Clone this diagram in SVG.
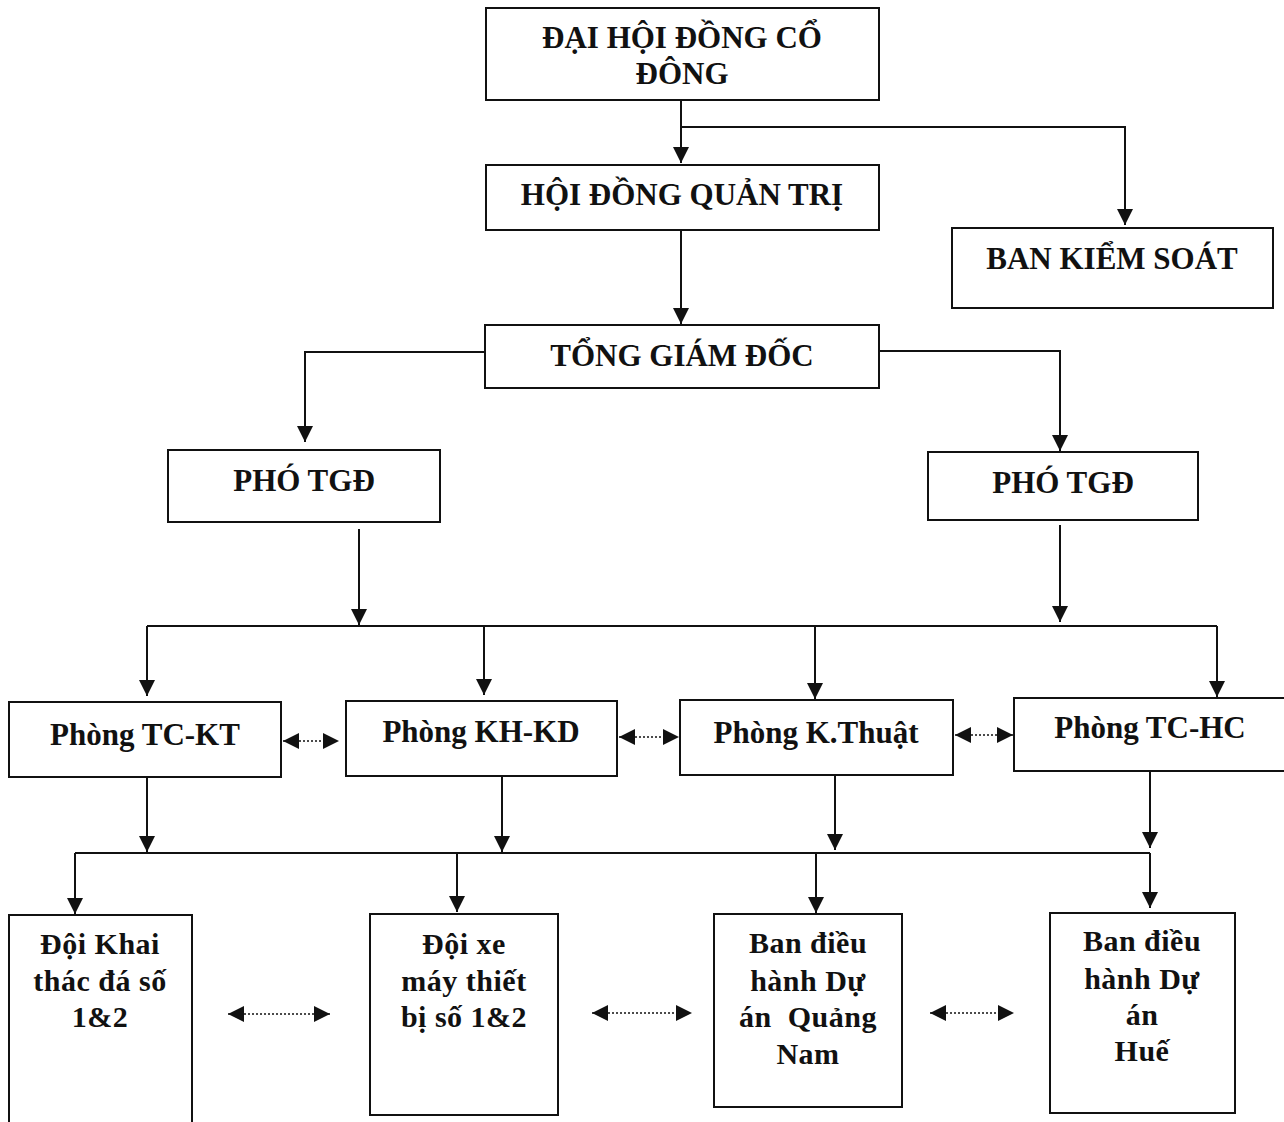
<svg xmlns="http://www.w3.org/2000/svg" width="1284" height="1122" viewBox="0 0 1284 1122">
<style>
.box{fill:#fff;stroke:#111;stroke-width:2}
.t{font-family:"Liberation Serif","DejaVu Serif",serif;font-weight:bold;font-size:31px;fill:#111;text-anchor:middle}
.b{font-size:30px;letter-spacing:0.5px}
.c{fill:none;stroke:#111;stroke-width:2}
.d{fill:none;stroke:#111;stroke-width:1.5;stroke-dasharray:2,2}
</style>
<defs>
<marker id="ah" viewBox="0 0 10 10" refX="10" refY="5" markerWidth="16" markerHeight="16" markerUnits="userSpaceOnUse" orient="auto">
<path d="M0,0 L10,5 L0,10 z" fill="#111"/>
</marker>
<marker id="as" viewBox="0 0 10 10" refX="0" refY="5" markerWidth="16" markerHeight="16" markerUnits="userSpaceOnUse" orient="auto">
<path d="M10,0 L0,5 L10,10 z" fill="#111"/>
</marker>
</defs>
<rect width="1284" height="1122" fill="#fff"/>
<g id="connectors">
<path class="c" d="M681,100 V163" marker-end="url(#ah)"/>
<path class="c" d="M681,127 H1125 V225" marker-end="url(#ah)"/>
<path class="c" d="M681,230 V324" marker-end="url(#ah)"/>
<path class="c" d="M485,352 H305 V442" marker-end="url(#ah)"/>
<path class="c" d="M879,351 H1060 V451" marker-end="url(#ah)"/>
<path class="c" d="M359,529 V625" marker-end="url(#ah)"/>
<path class="c" d="M1060,525 V622" marker-end="url(#ah)"/>
<path class="c" d="M147,626 H1217"/>
<path class="c" d="M147,626 V696" marker-end="url(#ah)"/>
<path class="c" d="M484,626 V695" marker-end="url(#ah)"/>
<path class="c" d="M815,626 V699" marker-end="url(#ah)"/>
<path class="c" d="M1217,626 V697" marker-end="url(#ah)"/>
<path class="c" d="M147,777 V852" marker-end="url(#ah)"/>
<path class="c" d="M502,776 V852" marker-end="url(#ah)"/>
<path class="c" d="M835,775 V850" marker-end="url(#ah)"/>
<path class="c" d="M1150,771 V848" marker-end="url(#ah)"/>
<path class="c" d="M75,853 H1150"/>
<path class="c" d="M75,853 V914" marker-end="url(#ah)"/>
<path class="c" d="M457,853 V912" marker-end="url(#ah)"/>
<path class="c" d="M816,853 V913" marker-end="url(#ah)"/>
<path class="c" d="M1150,853 V908" marker-end="url(#ah)"/>
<path class="d" d="M283,741 H339" marker-start="url(#as)" marker-end="url(#ah)"/>
<path class="d" d="M619,737 H679" marker-start="url(#as)" marker-end="url(#ah)"/>
<path class="d" d="M955,735 H1013" marker-start="url(#as)" marker-end="url(#ah)"/>
<path class="d" d="M228,1014 H330" marker-start="url(#as)" marker-end="url(#ah)"/>
<path class="d" d="M592,1013 H692" marker-start="url(#as)" marker-end="url(#ah)"/>
<path class="d" d="M930,1013 H1014" marker-start="url(#as)" marker-end="url(#ah)"/>
</g>
<g id="dhdcd"><rect class="box" x="486" y="8" width="393" height="92"/><text class="t" x="682" y="48">ĐẠI HỘI ĐỒNG CỔ</text><text class="t" x="682" y="84">ĐÔNG</text></g>
<g id="hdqt"><rect class="box" x="486" y="165" width="393" height="65"/><text class="t" x="682" y="205">HỘI ĐỒNG QUẢN TRỊ</text></g>
<g id="bks"><rect class="box" x="952" y="228" width="321" height="80"/><text class="t" x="1112" y="269">BAN KIỂM SOÁT</text></g>
<g id="tgd"><rect class="box" x="485" y="325" width="394" height="63"/><text class="t" x="682" y="366">TỔNG GIÁM ĐỐC</text></g>
<g id="ptgd1"><rect class="box" x="168" y="450" width="272" height="72"/><text class="t" x="304" y="491">PHÓ TGĐ</text></g>
<g id="ptgd2"><rect class="box" x="928" y="452" width="270" height="68"/><text class="t" x="1063" y="493">PHÓ TGĐ</text></g>
<g id="tckt"><rect class="box" x="9" y="702" width="272" height="75"/><text class="t" x="145" y="745">Phòng TC-KT</text></g>
<g id="khkd"><rect class="box" x="346" y="701" width="271" height="75"/><text class="t" x="481" y="742">Phòng KH-KD</text></g>
<g id="kthuat"><rect class="box" x="680" y="700" width="273" height="75"/><text class="t" x="816" y="743">Phòng K.Thuật</text></g>
<g id="tchc"><rect class="box" x="1014" y="698" width="272" height="73"/><text class="t" x="1150" y="738">Phòng TC-HC</text></g>
<g id="doikhai"><rect class="box" x="9" y="915" width="183" height="210"/><text class="t b" x="100" y="954">Đội Khai</text><text class="t b" x="100" y="991">thác đá số</text><text class="t b" x="100" y="1027">1&amp;2</text></g>
<g id="doixe"><rect class="box" x="370" y="914" width="188" height="201"/><text class="t b" x="464" y="954">Đội xe</text><text class="t b" x="464" y="991">máy thiết</text><text class="t b" x="464" y="1027">bị số 1&amp;2</text></g>
<g id="bqn"><rect class="box" x="714" y="914" width="188" height="193"/><text class="t b" x="808" y="953">Ban điều</text><text class="t b" x="808" y="991">hành Dự</text><text class="t b" x="808" y="1027" style="white-space:pre">án  Quảng</text><text class="t b" x="808" y="1064">Nam</text></g>
<g id="bhue"><rect class="box" x="1050" y="913" width="185" height="200"/><text class="t b" x="1142" y="951">Ban điều</text><text class="t b" x="1142" y="989">hành Dự</text><text class="t b" x="1142" y="1025">án</text><text class="t b" x="1142" y="1061">Huế</text></g>
</svg>
